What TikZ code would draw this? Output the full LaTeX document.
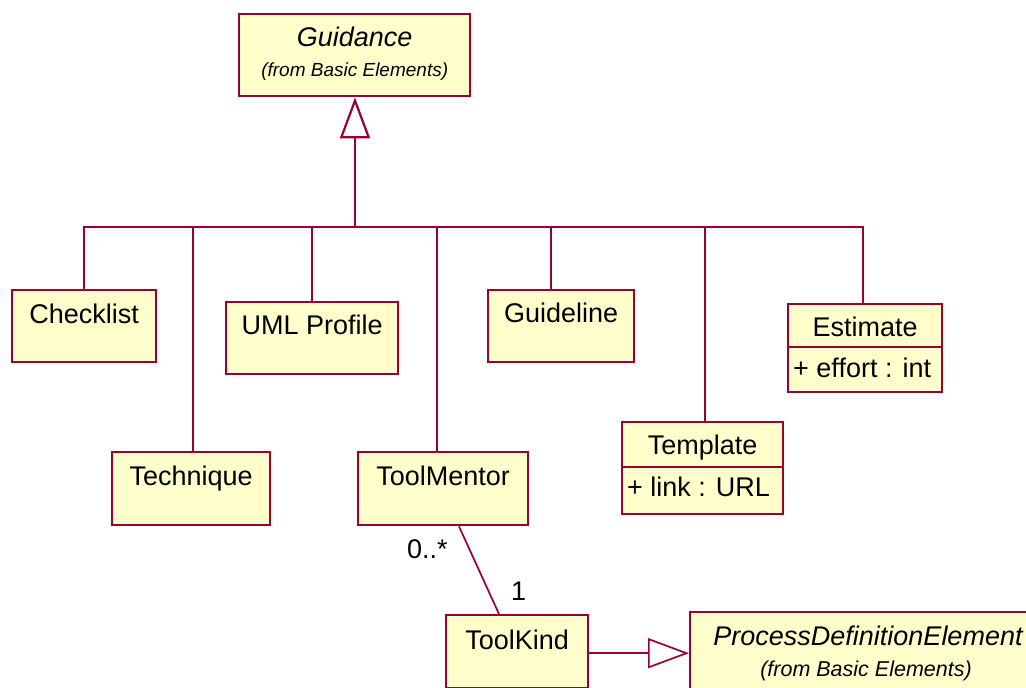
\documentclass[tikz,border=0pt]{standalone}
\usepackage{fontspec}
\setmainfont{Liberation Sans}
\usetikzlibrary{arrows.meta,calc}
\definecolor{umlline}{RGB}{153,0,51}
\definecolor{umlfill}{RGB}{255,255,204}
\begin{document}
\begin{tikzpicture}[x=1pt,y=-1pt,
  cls/.style={draw=umlline, fill=umlfill, line width=2.4pt, rectangle, inner sep=0pt, anchor=north west},
  clsname/.style={font=\fontsize{27}{30}\selectfont, anchor=base, inner sep=0pt},
  clsnameit/.style={font=\fontsize{27}{30}\selectfont\itshape, anchor=base, inner sep=0pt},
  pkgnote/.style={anchor=base, inner sep=0pt, font=\fontsize{19}{22}\selectfont\itshape},
  attrtext/.style={font=\fontsize{27}{30}\selectfont, anchor=base west, inner sep=0pt},
  multtext/.style={font=\fontsize{27}{30}\selectfont, anchor=base west, inner sep=0pt},
  compartline/.style={draw=umlline, line width=2.4pt},
  treeline/.style={draw=umlline, line width=2.2pt},
  assocline/.style={draw=umlline, line width=1.7pt},
  genarrow/.style={-{Triangle[open, length=41pt, width=30pt]}}]
\useasboundingbox (0,0) rectangle (1026,688);
\clip (0,0) rectangle (1026,688);

% superclass
\node[cls, minimum width=231pt, minimum height=82pt] (guidance) at (238,13) {};
\node[clsnameit] (guidanceName) at ($(guidance.north)+(0,33)$) {Guidance};
\node[pkgnote] (guidancePkg) at ($(guidance.north)+(0,63)$) {(from Basic Elements)};

% kinds of guidance
\node[cls, minimum width=144pt, minimum height=72pt] (checklist) at (11,289) {};
\node[clsname] (checklistName) at ($(checklist.north)+(0,34)$) {Checklist};

\node[cls, minimum width=172pt, minimum height=72pt] (umlprofile) at (225,301) {};
\node[clsname] (umlprofileName) at ($(umlprofile.north)+(0,33)$) {UML Profile};

\node[cls, minimum width=158pt, minimum height=73pt] (technique) at (111,451) {};
\node[clsname] (techniqueName) at ($(technique.north)+(0,34)$) {Technique};

\node[cls, minimum width=170pt, minimum height=73pt] (toolmentor) at (357,451) {};
\node[clsname] (toolmentorName) at ($(toolmentor.north)+(0,34)$) {ToolMentor};

\node[cls, minimum width=146pt, minimum height=72pt] (guideline) at (487,289) {};
\node[clsname] (guidelineName) at ($(guideline.north)+(0,33)$) {Guideline};

\node[cls, minimum width=154pt, minimum height=88pt] (estimate) at (787,303) {};
\node[clsname] (estimateName) at ($(estimate.north)+(0,33)$) {Estimate};
\draw[compartline] ($(estimate.north west)+(0,44)$) -- ($(estimate.north east)+(0,44)$);
\node[attrtext] (estimateAttr) at ($(estimate.north west)+(6,74)$) {+ effort : int};

\node[cls, minimum width=161pt, minimum height=92pt] (template) at (621,421) {};
\node[clsname] (templateName) at ($(template.north)+(0,33)$) {Template};
\draw[compartline] ($(template.north west)+(0,46)$) -- ($(template.north east)+(0,46)$);
\node[attrtext] (templateAttr) at ($(template.north west)+(6,75)$) {+ link : URL};

\node[cls, minimum width=142pt, minimum height=73pt] (toolkind) at (445,614) {};
\node[clsname] (toolkindName) at ($(toolkind.north)+(0,35)$) {ToolKind};

\node[cls, minimum width=358pt, minimum height=82pt] (pde) at (689,611) {};
\node[clsnameit] (pdeName) at (868,645) {ProcessDefinitionElement};
\node[pkgnote, font=\fontsize{21.5}{24}\selectfont\itshape] (pdePkg) at (866,676) {(from Basic Elements)};

% generalization tree
\coordinate (hub) at (355,227);
\coordinate (xTech) at (193,0);
\coordinate (xUml) at (312,0);
\coordinate (xMentor) at (437,0);
\coordinate (xGuide) at (551,0);
\coordinate (xTempl) at (705,0);
\coordinate (xEst) at (863,0);
\draw[treeline] (checklist.north) |- (hub -| xEst) -- (estimate.north -| xEst);
\draw[treeline] (technique.north -| xTech) -- (hub -| xTech);
\draw[treeline] (umlprofile.north -| xUml) -- (hub -| xUml);
\draw[treeline] (toolmentor.north -| xMentor) -- (hub -| xMentor);
\draw[treeline] (guideline.north -| xGuide) -- (hub -| xGuide);
\draw[treeline] (template.north -| xTempl) -- (hub -| xTempl);
\draw[treeline, genarrow] (hub) -- (guidance.south -| hub);

% association ToolMentor -- ToolKind
\coordinate (xA) at (459,0);
\coordinate (xB) at (499,0);
\draw[assocline] (toolmentor.south -| xA) -- (toolkind.north -| xB);
\node[multtext] (multMany) at (407,558) {0..*};
\node[multtext] (multOne) at (511,600) {1};

% ToolKind specializes ProcessDefinitionElement
\draw[assocline, genarrow] (toolkind.east |- pde.west) -- (pde.west);
\end{tikzpicture}
\end{document}
